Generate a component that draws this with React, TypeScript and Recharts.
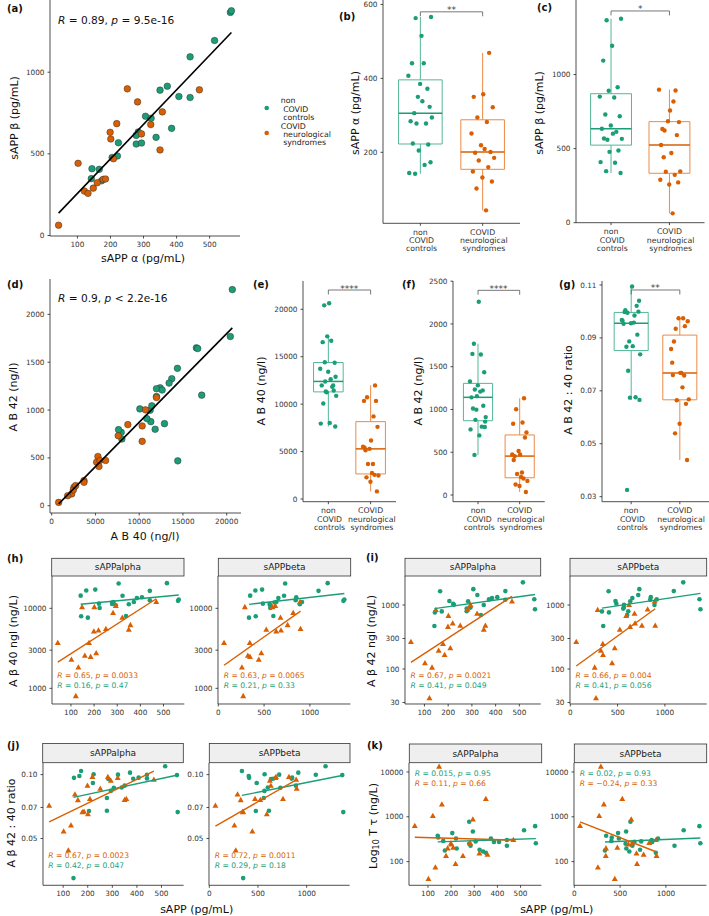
import React from "react";
import {
  ReferenceArea,
  ReferenceLine,
  Scatter,
  ScatterChart,
  XAxis,
  YAxis,
} from "recharts";

const GREEN = "#1b9e77";
const ORANGE = "#d95f02";
const GREEN_BOX = "#52b898";
const ORANGE_BOX = "#ec8a45";
const FONT = "DejaVu Sans, sans-serif";

// non COVID controls, one entry per subject
const ctrlSappA = [563, 566, 515, 441, 372, 350, 407, 441, 306, 323, 385, 284, 278, 278, 294, 338, 224, 221, 205, 144, 166, 142, 173];
const ctrlSappB = [1366, 1376, 1194, 1094, 914, 890, 851, 845, 730, 718, 656, 634, 613, 560, 566, 601, 568, 487, 478, 409, 405, 348, 335];
const ctrlAb40 = [12395, 12889, 20645, 16539, 11977, 11254, 13725, 12623, 20417, 14372, 13421, 11977, 11824, 11330, 10874, 8022, 10075, 11444, 17147, 7946, 16691, 14410, 7642];
const ctrlAb42 = [1233, 858, 2259, 1650, 1223, 998, 1328, 1209, 1769, 1436, 1282, 1142, 799, 879, 911, 697, 1012, 1044, 1156, 767, 1643, 469, 795];
const ctrlTau = [618, 257, 500, 225, 327, 157, 275, 304, 282, 184, 275, 225, 773, 250, 471, 168, 196, 327, 433, 346, 290, 377, 177];

// COVID neurological syndromes
const covSappA = [43, 102, 121, 132, 148, 160, 178, 185, 209, 199, 201, 219, 251, 282, 294, 322, 357, 350, 469];
const covSappB = [63, 442, 272, 258, 290, 323, 344, 346, 470, 632, 591, 685, 898, 818, 622, 679, 757, 524, 892];
const covAb40 = [3688, 2281, 798, 1825, 10342, 2547, 3688, 2471, 2737, 5133, 10342, 5285, 5513, 8706, 10722, 7604, 6159, 5399, 11977];
const covAb42 = [263, 123, 35, 105, 834, 193, 245, 165, 210, 455, 673, 515, 473, 848, 1002, 732, 473, 410, 1131];
const covTau = [619, 41, 1035, 74, 13000, 1884, 133, 197, 203, 254, 241, 88, 133, 260, 872, 152, 142, 2477, 302];

const groupLabels = [
  ["non", " COVID", " controls"],
  ["COVID", " neurological", " syndromes"],
];
const facetNames = ["sAPPalpha", "sAPPbeta"];

// correlation / test labels as printed on the figure
const corrStats = [
  ["0.89", "=", "9.5e-16"],
  ["0.9", "<", "2.2e-16"],
];
const hStats = [
  [["0.65", "0.0033"], ["0.16", "0.47"]],
  [["0.63", "0.0065"], ["0.21", "0.33"]],
];
const iStats = [
  [["0.67", "0.0021"], ["0.41", "0.049"]],
  [["0.66", "0.004"], ["0.41", "0.056"]],
];
const jStats = [
  [["0.67", "0.0023"], ["0.42", "0.047"]],
  [["0.72", "0.0011"], ["0.29", "0.18"]],
];
const kStats = [
  [["0.015", "0.95"], ["0.11", "0.66"]],
  [["0.02", "0.93"], ["\u22120.24", "0.33"]],
];
const signif = ["**", "*", "****", "****", "**"];

type Pt = { x: number; y: number };
type Box = [number, number, number, number];

const pairs = (xs: number[], ys: number[]): Pt[] => xs.map((x, i) => ({ x, y: ys[i] }));
const ratio = (a42: number[], a40: number[]) => a42.map((v, i) => v / a40[i]);

function quantile(s: number[], p: number) {
  const h = (s.length - 1) * p;
  const lo = Math.floor(h);
  const hi = Math.min(lo + 1, s.length - 1);
  return s[lo] + (h - lo) * (s[hi] - s[lo]);
}

function boxStats(vals: number[]) {
  const s = [...vals].sort((a, b) => a - b);
  const q1 = quantile(s, 0.25);
  const med = quantile(s, 0.5);
  const q3 = quantile(s, 0.75);
  const iqr = q3 - q1;
  const lo = Math.min(...s.filter((v) => v >= q1 - 1.5 * iqr));
  const hi = Math.max(...s.filter((v) => v <= q3 + 1.5 * iqr));
  return { q1, med, q3, lo, hi };
}

// fixed horizontal spread for the jittered points
const jitter = (i: number) => (((i * 0.618034 + 0.31) % 1) - 0.5) * 0.4;

const ML = 34;
const MT = 4;
const MR = 4;
const MB = 30;

const xAxisStyle = {
  axisLine: { stroke: "#222", strokeWidth: 0.8 },
  tickLine: { stroke: "#222", strokeWidth: 0.8 },
  tickSize: 2.5,
  tickMargin: 3.5,
  interval: 0 as const,
  allowDataOverflow: true,
  tick: { fontSize: 7.3, fill: "#333", fontFamily: FONT },
};
const yAxisStyle = { ...xAxisStyle, tickMargin: 3 };

const circle = (fill: string, r: number, stroke?: string) => (p: any) => (
  <circle cx={p.cx} cy={p.cy} r={r} fill={fill} stroke={stroke ?? "none"} strokeWidth={0.5} />
);
const triangle = (fill: string, s: number) => (p: any) => (
  <path
    d={`M${p.cx},${p.cy - s}L${p.cx + s * 0.9},${p.cy + s * 0.6}L${p.cx - s * 0.9},${p.cy + s * 0.6}Z`}
    fill={fill}
  />
);
const nothing = () => <g />;

function Frame({ box, children }: { box: Box; children: React.ReactNode }) {
  const [x0, y0, w, h] = box;
  return (
    <div style={{ position: "absolute", left: x0 - ML, top: y0 - MT }}>
      <ScatterChart
        width={w + ML + MR}
        height={h + MT + MB}
        margin={{ top: MT, right: MR, bottom: 0, left: 0 }}
      >
        {children}
      </ScatterChart>
    </div>
  );
}

function CatTick(props: any) {
  const { x, y, payload } = props;
  const lines = groupLabels[Math.round(payload.value) - 1];
  return (
    <text x={x} y={y} textAnchor="middle" fontSize={7.8} fill="#333" fontFamily={FONT} style={{ whiteSpace: "pre" }}>
      {lines.map((l, i) => (
        <tspan key={i} x={x} dy={i === 0 ? 5.6 : 8.3}>
          {l}
        </tspan>
      ))}
    </text>
  );
}

function CorrPanel(props: {
  box: Box; xDomain: number[]; xTicks: number[]; yDomain: number[]; yTicks: number[]; ctrl: Pt[]; cov: Pt[];
}) {
  const { box, xDomain, xTicks, yDomain, yTicks, ctrl, cov } = props;
  return (
    <Frame box={box}>
      <XAxis type="number" dataKey="x" domain={xDomain} ticks={xTicks} height={MB} {...xAxisStyle} />
      <YAxis type="number" dataKey="y" domain={yDomain} ticks={yTicks} width={ML} {...yAxisStyle} />
      <Scatter data={ctrl} shape={circle(GREEN, 3.3, "#333")} isAnimationActive={false} />
      <Scatter data={cov} shape={circle(ORANGE, 3.3, "#333")} isAnimationActive={false} />
      <Scatter
        data={[...ctrl, ...cov]}
        shape={nothing}
        stroke="#000"
        line={{ stroke: "#000", strokeWidth: 1.6 }}
        lineType="fitting"
        isAnimationActive={false}
      />
    </Frame>
  );
}

function BoxPanel(props: {
  box: Box; yDomain: number[]; yTicks: number[]; values: number[][]; bracket: number[]; fmt?: (v: number) => string;
}) {
  const { box, yDomain, yTicks, values, bracket, fmt } = props;
  const stats = values.map(boxStats);
  const [by, tip] = bracket;
  const hw = 0.35;
  const strokes = [GREEN_BOX, ORANGE_BOX];
  const meds = [GREEN, ORANGE];
  return (
    <Frame box={box}>
      <XAxis type="number" dataKey="x" domain={[0.4, 2.6]} ticks={[1, 2]} height={MB} {...xAxisStyle} tick={CatTick} />
      <YAxis
        type="number"
        dataKey="y"
        domain={yDomain}
        ticks={yTicks}
        width={ML}
        {...yAxisStyle}
        tickFormatter={fmt}
      />
      {stats.flatMap((s, g) => {
        const c = g + 1;
        return [
          <ReferenceArea key={`b${g}`} x1={c - hw} x2={c + hw} y1={s.q1} y2={s.q3} fill="#fff" fillOpacity={0} stroke={strokes[g]} strokeWidth={1} />,
          <ReferenceLine key={`u${g}`} segment={[{ x: c, y: s.q3 }, { x: c, y: s.hi }]} stroke={strokes[g]} strokeWidth={1} />,
          <ReferenceLine key={`l${g}`} segment={[{ x: c, y: s.lo }, { x: c, y: s.q1 }]} stroke={strokes[g]} strokeWidth={1} />,
          <ReferenceLine key={`m${g}`} segment={[{ x: c - hw, y: s.med }, { x: c + hw, y: s.med }]} stroke={meds[g]} strokeWidth={1.5} />,
        ];
      })}
      <ReferenceLine segment={[{ x: 1, y: by }, { x: 2, y: by }]} stroke="#555" strokeWidth={0.8} />
      <ReferenceLine segment={[{ x: 1, y: by }, { x: 1, y: by - tip }]} stroke="#555" strokeWidth={0.8} />
      <ReferenceLine segment={[{ x: 2, y: by }, { x: 2, y: by - tip }]} stroke="#555" strokeWidth={0.8} />
      <Scatter
        data={values[0].map((v, i) => ({ x: 1 + jitter(i), y: v }))}
        shape={circle(GREEN, 2.2)}
        isAnimationActive={false}
      />
      <Scatter
        data={values[1].map((v, i) => ({ x: 2 + jitter(i + 7), y: v }))}
        shape={circle(ORANGE, 2.2)}
        isAnimationActive={false}
      />
    </Frame>
  );
}

const alphaDomain = [18, 590];
const alphaTicks = [100, 200, 300, 400, 500];
const betaDomain = [-3, 1442];
const betaTicks = [0, 500, 1000];

function FacetPanel(props: {
  boxes: Box[]; yDomain: number[]; yTicks: number[]; ctrlY: number[]; covY: number[]; fmt?: (v: number) => string;
}) {
  const { boxes, yDomain, yTicks, ctrlY, covY, fmt } = props;
  const facets = [
    { xd: alphaDomain, xt: alphaTicks, cx: ctrlSappA, vx: covSappA },
    { xd: betaDomain, xt: betaTicks, cx: ctrlSappB, vx: covSappB },
  ];
  return (
    <>
      {facets.map((f, k) => {
        const ctrl = pairs(f.cx, ctrlY);
        const cov = pairs(f.vx, covY);
        return (
          <Frame key={k} box={boxes[k]}>
            <XAxis type="number" dataKey="x" domain={f.xd} ticks={f.xt} height={MB} {...xAxisStyle} />
            <YAxis
              type="number"
              dataKey="y"
              scale="log"
              domain={yDomain}
              ticks={yTicks}
              width={ML}
              {...yAxisStyle}
              tickFormatter={fmt}
            />
            <Scatter data={ctrl} shape={circle(GREEN, 2.3)} isAnimationActive={false} />
            <Scatter data={cov} shape={triangle(ORANGE, 3.3)} isAnimationActive={false} />
            <Scatter data={ctrl} shape={nothing} stroke={GREEN} line={{ stroke: GREEN, strokeWidth: 1.4 }} lineType="fitting" isAnimationActive={false} />
            <Scatter data={cov} shape={nothing} stroke={ORANGE} line={{ stroke: ORANGE, strokeWidth: 1.4 }} lineType="fitting" isAnimationActive={false} />
          </Frame>
        );
      })}
    </>
  );
}

const A_BOX: Box = [50, 0, 190, 236];
const B_BOX: Box = [383, 0, 137, 223.3];
const C_BOX: Box = [576, 0, 128.5, 222.7];
const D_BOX: Box = [50, 279, 191, 234];
const E_BOX: Box = [302.7, 281, 93, 220.7];
const F_BOX: Box = [452.7, 281, 91.7, 220.7];
const G_BOX: Box = [601.7, 281, 107, 220.7];
const H_BOXES: Box[] = [[51.7, 576, 132.3, 128], [218.3, 576, 132.4, 128]];
const I_BOXES: Box[] = [[405, 576, 135.7, 128], [570, 576, 136.7, 128]];
const J_BOXES: Box[] = [[42.7, 762.7, 140.6, 122.3], [209.3, 762.7, 140.7, 122.3]];
const K_BOXES: Box[] = [[409.3, 762.7, 132.4, 122.3], [574.3, 762.7, 132.4, 122.3]];

const boxPanels = [
  { box: B_BOX, yDomain: [8, 612], yTicks: [200, 400, 600], values: [ctrlSappA, covSappA], bracket: [580, 12] },
  { box: C_BOX, yDomain: [0, 1503], yTicks: [0, 500, 1000], values: [ctrlSappB, covSappB], bracket: [1429, 30] },
  { box: E_BOX, yDomain: [-285, 22984], yTicks: [0, 5000, 10000, 15000, 20000], values: [ctrlAb40, covAb40], bracket: [22035, 475] },
  { box: F_BOX, yDomain: [-78, 2502], yTicks: [0, 500, 1000, 1500, 2000, 2500], values: [ctrlAb42, covAb42], bracket: [2393, 52] },
  {
    box: G_BOX, yDomain: [0.0281, 0.1115], yTicks: [0.03, 0.05, 0.07, 0.09, 0.11],
    values: [ratio(ctrlAb42, ctrlAb40), ratio(covAb42, covAb40)], bracket: [0.1081, 0.0017],
    fmt: (v: number) => v.toFixed(2),
  },
];

function StatText({ x, y, r, op, p, size, color }: any) {
  return (
    <text x={x} y={y} fontSize={size} fill={color} style={{ whiteSpace: "pre" }}>
      <tspan fontStyle="italic">R</tspan>
      {` = ${r}, `}
      <tspan fontStyle="italic">p</tspan>
      {` ${op} ${p}`}
    </text>
  );
}

function VTitle({ x, y, children }: any) {
  return (
    <text x={x} y={y} transform={`rotate(-90 ${x} ${y})`} textAnchor="middle" fontSize={11} fill="#111" dominantBaseline="central">
      {children}
    </text>
  );
}

function Overlay() {
  const tags: [string, number, number][] = [
    ["(a)", 7, 12], ["(b)", 339, 20], ["(c)", 537, 11], ["(d)", 7, 288], ["(e)", 253, 288],
    ["(f)", 402, 288], ["(g)", 559, 288], ["(h)", 7, 562], ["(i)", 366, 561], ["(j)", 7, 749], ["(k)", 367, 749],
  ];
  const strips: [Box[], number, number][] = [
    [H_BOXES, 558.3, 576], [I_BOXES, 558.3, 576], [J_BOXES, 743.5, 762.7], [K_BOXES, 744, 762.7],
  ];
  const facetStats: [Box[], any[], number, string[]][] = [
    [H_BOXES, hStats, 677.5, [ORANGE, GREEN]],
    [I_BOXES, iStats, 677.5, [ORANGE, GREEN]],
    [J_BOXES, jStats, 858.2, [ORANGE, GREEN]],
    [K_BOXES, kStats, 775.8, [GREEN, ORANGE]],
  ];
  return (
    <svg width={709} height={916} style={{ position: "absolute", left: 0, top: 0, pointerEvents: "none" }} fontFamily={FONT}>
      {tags.map(([t, x, y]) => (
        <text key={t} x={x} y={y} fontSize={10} fontWeight="bold" fill="#111">{t}</text>
      ))}

      <StatText x={58} y={24} r={corrStats[0][0]} op={corrStats[0][1]} p={corrStats[0][2]} size={10.6} color="#111" />
      <StatText x={58} y={302} r={corrStats[1][0]} op={corrStats[1][1]} p={corrStats[1][2]} size={10.6} color="#111" />

      {/* legend */}
      <circle cx={266.7} cy={108} r={2.3} fill={GREEN} />
      <circle cx={266.7} cy={133} r={2.3} fill={ORANGE} />
      <text fontSize={7.8} fill="#222" style={{ whiteSpace: "pre" }}>
        {[...groupLabels[0], ...groupLabels[1]].map((l, i) => (
          <tspan key={i} x={280.7} y={103.4 + i * 8.4}>{l}</tspan>
        ))}
      </text>

      {/* significance stars */}
      {boxPanels.map((bp, k) => {
        const [x0, y0, w, h] = bp.box;
        const [lo, hi] = bp.yDomain;
        const py = y0 + (h * (hi - bp.bracket[0])) / (hi - lo);
        return (
          <text key={k} x={x0 + w / 2} y={py + 1.5} textAnchor="middle" fontSize={9} fill="#444">{signif[k]}</text>
        );
      })}

      {/* strips */}
      {strips.flatMap(([boxes, t, b], s) =>
        boxes.map((bx, k) => (
          <g key={`${s}-${k}`}>
            <rect x={bx[0]} y={t} width={bx[2]} height={b - t} fill="#efefef" stroke="#333" strokeWidth={0.8} />
            <text x={bx[0] + bx[2] / 2} y={(t + b) / 2 + 3.2} textAnchor="middle" fontSize={9} fill="#1a1a1a">{facetNames[k]}</text>
          </g>
        ))
      )}

      {facetStats.flatMap(([boxes, st, y, cols], s) =>
        boxes.flatMap((bx, k) =>
          st[k].map((row: string[], j: number) => (
            <StatText key={`${s}-${k}-${j}`} x={bx[0] + 5.5} y={y + j * 10} r={row[0]} op="=" p={row[1]} size={7.6} color={cols[j]} />
          ))
        )
      )}

      {/* axis titles */}
      <text x={143} y={262} textAnchor="middle" fontSize={11} fill="#111">sAPP α (pg/mL)</text>
      <text x={145} y={540} textAnchor="middle" fontSize={11} fill="#111">A B 40 (ng/l)</text>
      <text x={196.7} y={913} textAnchor="middle" fontSize={11} fill="#111">sAPP (pg/mL)</text>
      <text x={556.7} y={913} textAnchor="middle" fontSize={11} fill="#111">sAPP (pg/mL)</text>
      <VTitle x={14} y={118}>sAPP β (pg/mL)</VTitle>
      <VTitle x={355} y={113}>sAPP α (pg/mL)</VTitle>
      <VTitle x={539.3} y={113}>sAPP β (pg/mL)</VTitle>
      <VTitle x={13.3} y={397}>A B 42 (ng/l)</VTitle>
      <VTitle x={261.7} y={391}>A B 40 (ng/l)</VTitle>
      <VTitle x={418.3} y={391}>A B 42 (ng/l)</VTitle>
      <VTitle x={568.3} y={390}>A B 42 : 40 ratio</VTitle>
      <VTitle x={13.3} y={641}>A β 40 ngl (ng/L)</VTitle>
      <VTitle x={371.7} y={641}>A β 42 ngl (ng/L)</VTitle>
      <VTitle x={11.7} y={823}>A β 42 : 40 ratio</VTitle>
      <VTitle x={373.3} y={826}>
        Log<tspan fontSize={8} dy={2.5}>10</tspan>
        <tspan dy={-2.5}> T τ (ng/L)</tspan>
      </VTitle>
    </svg>
  );
}

export default function App() {
  return (
    <div
      style={{
        position: "absolute", left: 0, top: 0, width: 709, height: 916,
        overflow: "hidden", background: "#fff", fontFamily: FONT,
      }}
    >
      <CorrPanel
        box={A_BOX}
        xDomain={[17, 592]}
        xTicks={[100, 200, 300, 400, 500]}
        yDomain={[-3, 1442]}
        yTicks={[0, 500, 1000]}
        ctrl={pairs(ctrlSappA, ctrlSappB)}
        cov={pairs(covSappA, covSappB)}
      />
      <CorrPanel
        box={D_BOX}
        xDomain={[-194, 21637]}
        xTicks={[0, 5000, 10000, 15000, 20000]}
        yDomain={[-76, 2370]}
        yTicks={[0, 500, 1000, 1500, 2000]}
        ctrl={pairs(ctrlAb40, ctrlAb42)}
        cov={pairs(covAb40, covAb42)}
      />
      {boxPanels.map((bp, k) => (
        <BoxPanel key={k} {...bp} />
      ))}
      <FacetPanel boxes={H_BOXES} yDomain={[637, 25350]} yTicks={[1000, 3000, 10000]} ctrlY={ctrlAb40} covY={covAb40} />
      <FacetPanel boxes={I_BOXES} yDomain={[28.4, 2840]} yTicks={[30, 100, 300, 1000]} ctrlY={ctrlAb42} covY={covAb42} />
      <FacetPanel
        boxes={J_BOXES}
        yDomain={[0.0301, 0.1134]}
        yTicks={[0.05, 0.07, 0.1]}
        ctrlY={ratio(ctrlAb42, ctrlAb40)}
        covY={ratio(covAb42, covAb40)}
        fmt={(v) => v.toFixed(2)}
      />
      <FacetPanel boxes={K_BOXES} yDomain={[29.6, 15850]} yTicks={[100, 1000, 10000]} ctrlY={ctrlTau} covY={covTau} />
      <Overlay />
    </div>
  );
}
